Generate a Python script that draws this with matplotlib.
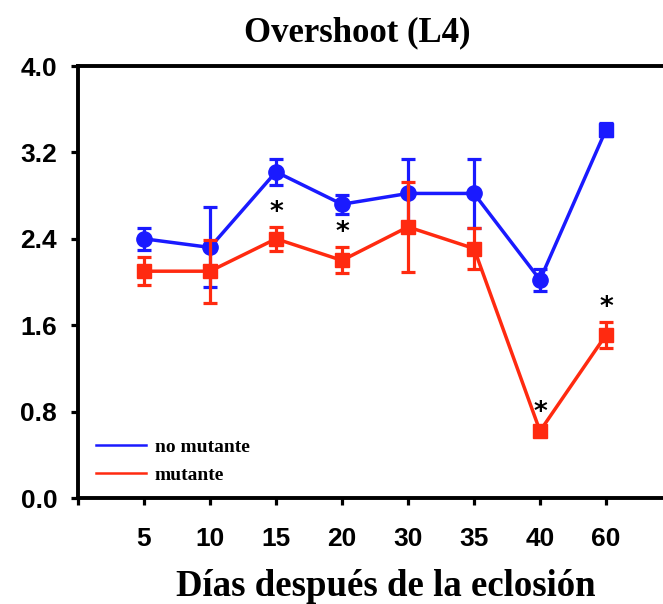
import matplotlib
matplotlib.use("Agg")
import matplotlib.pyplot as plt
import numpy as np

# Days after hatching (categorical positions)
days = ["5", "10", "15", "20", "30", "35", "40", "60"]

# Overshoot (L4) means and errors
no_mutante = [2.40, 2.32, 3.02, 2.72, 2.82, 2.82, 2.02, 3.41]
no_mutante_err = [0.10, 0.37, 0.12, 0.09, 0.32, 0.32, 0.10, 0.06]
mutante = [2.10, 2.10, 2.40, 2.20, 2.51, 2.31, 0.62, 1.51]
mutante_err = [0.13, 0.29, 0.11, 0.12, 0.42, 0.19, 0.04, 0.12]

# Significant differences marked with an asterisk
significant = [False, False, True, True, False, False, True, True]

BLUE = "#1a1aff"
RED = "#ff2a10"

fig = plt.figure(figsize=(6.63, 6.04), dpi=100)
ax = fig.add_axes([78 / 663, 1 - 498 / 604, 1 - 78 / 663, (498 - 66) / 604])

x = np.arange(1, len(days) + 1)

# no mutante: circles, last point drawn as a square
ax.errorbar(x, no_mutante, yerr=no_mutante_err, color=BLUE, lw=2.5,
            capsize=5, capthick=2.3, elinewidth=2.3, fmt="none", zorder=2)
ax.plot(x, no_mutante, color=BLUE, lw=2.5, zorder=2, label="no mutante")
ax.plot(x[:-1], no_mutante[:-1], "o", color=BLUE, ms=11, zorder=3)
ax.plot(x[-1:], no_mutante[-1:], "s", color=BLUE, ms=10, zorder=3)

# mutante: squares
ax.errorbar(x, mutante, yerr=mutante_err, color=RED, lw=2.5,
            capsize=5, capthick=2.3, elinewidth=2.3, fmt="none", zorder=4)
ax.plot(x, mutante, color=RED, lw=2.5, zorder=4, label="mutante")
ax.plot(x, mutante, "s", color=RED, ms=10.5, zorder=5)

for xi, m, e, s in zip(x, mutante, mutante_err, significant):
    if s:
        ax.text(xi, m + e + 0.01, "*", ha="center", va="bottom",
                fontsize=19, fontweight="bold", color="black",
                family="DejaVu Sans", zorder=6)

ax.set_xlim(0, 585 / 66)
ax.set_ylim(0, 4.0)
ax.set_yticks([0.0, 0.8, 1.6, 2.4, 3.2, 4.0])
ax.set_yticklabels(["0.0", "0.8", "1.6", "2.4", "3.2", "4.0"])
ax.set_xticks(np.arange(0, len(days) + 1))
ax.set_xticklabels([""] + days)

for sp in ["left", "top", "bottom"]:
    ax.spines[sp].set_linewidth(2.8)
ax.spines["right"].set_visible(False)

ax.tick_params(axis="both", direction="out", length=5, width=2.3,
               labelsize=19)
ax.tick_params(axis="y", pad=10)
ax.tick_params(axis="x", pad=16)
for lab in ax.get_xticklabels() + ax.get_yticklabels():
    lab.set_fontfamily("Liberation Sans")
    lab.set_fontweight("bold")

leg = ax.legend(loc="lower left", bbox_to_anchor=(0.0, -0.008), frameon=False,
                handlelength=2.6, handletextpad=0.45, labelspacing=0.55,
                prop={"family": "Liberation Serif", "weight": "bold", "size": 14})
for line in leg.get_lines():
    line.set_linewidth(1.8)

fig.text(357 / 663, 1 - 33 / 604, "Overshoot (L4)", ha="center", va="center",
         family="Liberation Serif", fontweight="bold", fontsize=25)
fig.text(386 / 663, 1 - 586 / 604, "Días después de la eclosión", ha="center",
         va="center", family="Liberation Serif", fontweight="bold", fontsize=26.5)

fig.savefig("out.png", dpi=100)
